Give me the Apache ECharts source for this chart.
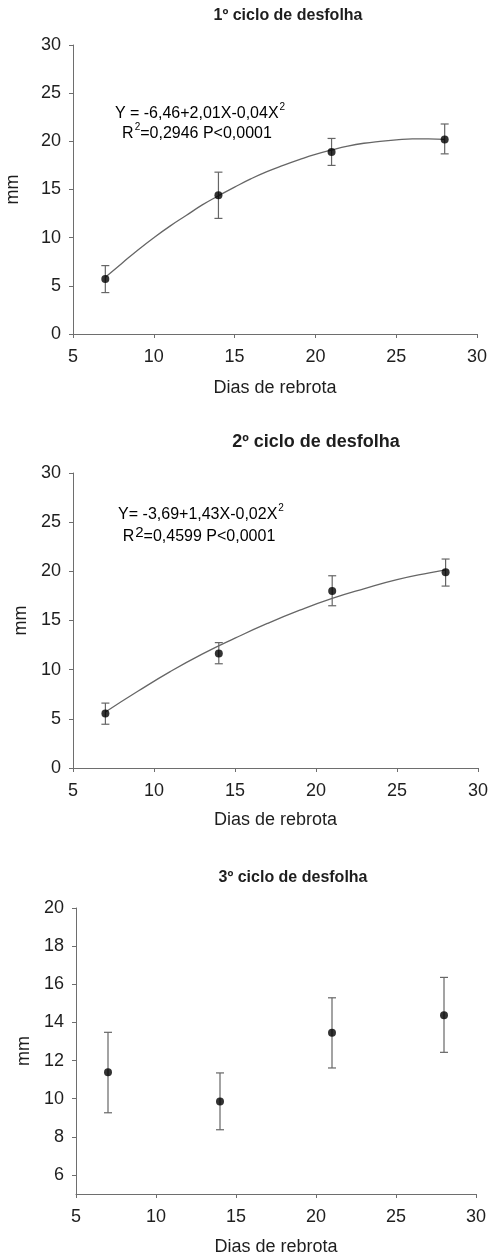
<!DOCTYPE html>
<html>
<head>
<meta charset="utf-8">
<script src="https://cdn.jsdelivr.net/npm/echarts@6/dist/echarts.min.js"></script>
<style>
html,body{margin:0;padding:0;background:#fff;}
#main{width:490px;height:1254px;}
</style>
</head>
<body>
<div id="main"></div>
<script>
// ---- data ----
const titles = ['1º ciclo de desfolha', '2º ciclo de desfolha', '3º ciclo de desfolha'];
const xName = 'Dias de rebrota';
const yName = 'mm';
const days = [7, 14, 21, 28];
const xTicks = [5, 10, 15, 20, 25, 30];

// cycle 1
const mean1 = [5.7, 14.4, 18.9, 20.2];
const low1 = [4.3, 12.0, 17.5, 18.7];
const high1 = [7.1, 16.8, 20.3, 21.8];
const curve1 = [[7, 5.9], [8, 7.3], [9, 8.7], [10, 10.0], [11, 11.2], [12, 12.3], [13, 13.4], [14, 14.35], [15, 15.25], [16, 16.1], [17, 16.85], [18, 17.5], [19, 18.1], [20, 18.65], [21, 19.1], [22, 19.5], [23, 19.8], [24, 20.0], [25, 20.15], [26, 20.25], [27, 20.25], [28, 20.2]];
const eq1 = ['Y = -6,46+2,01X-0,04X', 'R', '=0,2946 P<0,0001'];
const yTicks1 = [0, 5, 10, 15, 20, 25, 30];

// cycle 2
const mean2 = [5.55, 11.65, 18.0, 19.9];
const low2 = [4.45, 10.6, 16.5, 18.5];
const high2 = [6.6, 12.75, 19.55, 21.25];
const curve2 = [[7, 5.7], [9, 7.8], [11, 9.8], [13, 11.6], [15, 13.2], [17, 14.7], [19, 16.05], [21, 17.25], [23, 18.25], [25, 19.15], [27, 19.85], [28, 20.15]];
const eq2 = ['Y= -3,69+1,43X-0,02X', 'R', '=0,4599 P<0,0001'];
const yTicks2 = [0, 5, 10, 15, 20, 25, 30];

// cycle 3
const mean3 = [11.38, 9.85, 13.46, 14.37];
const low3 = [9.26, 8.37, 11.61, 12.43];
const high3 = [13.48, 11.35, 15.29, 16.36];
const yTicks3 = [6, 8, 10, 12, 14, 16, 18, 20];

// ---- chart ----
const FONT = '"Liberation Sans", Arial, sans-serif';
const AXIS_COLOR = '#6e6e6e';
const TEXT = '#1e1e1e';
const chart = echarts.init(document.getElementById('main'), null, {renderer: 'canvas'});

const grids = [
  {left: 73, right: 13, top: 45, height: 289, containLabel: false, outerBoundsMode: 'none'},
  {left: 73, right: 12, top: 473, height: 295, containLabel: false, outerBoundsMode: 'none'},
  {left: 76, right: 14, top: 908, height: 286, containLabel: false, outerBoundsMode: 'none'}
];

function xAxisFor(i, gap) {
  return {
    type: 'value', gridIndex: i, min: 5, max: 30, interval: 5,
    name: xName, nameLocation: 'middle', nameGap: gap,
    nameTextStyle: {fontFamily: FONT, fontSize: 18, color: TEXT},
    axisLine: {show: true, lineStyle: {color: AXIS_COLOR, width: 1}},
    axisTick: {show: true, length: 4, lineStyle: {color: AXIS_COLOR}},
    axisLabel: {fontFamily: FONT, fontSize: 18, color: TEXT, margin: 14,
      customValues: xTicks},
    splitLine: {show: false}
  };
}
function yAxisFor(i, min, max, interval, ticks, gap) {
  const ax = {
    type: 'value', gridIndex: i, min: min, max: max,
    name: yName, nameLocation: 'middle', nameGap: gap, nameRotate: 90,
    nameTextStyle: {fontFamily: FONT, fontSize: 18, color: TEXT},
    axisLine: {show: true, lineStyle: {color: AXIS_COLOR, width: 1}},
    axisTick: {show: true, length: 4, lineStyle: {color: AXIS_COLOR}, customValues: ticks},
    axisLabel: {fontFamily: FONT, fontSize: 18, color: TEXT, margin: 12, customValues: ticks},
    splitLine: {show: false}
  };
  if (interval) ax.interval = interval;
  return ax;
}

function errorSeries(i, low, high) {
  return {
    type: 'custom', xAxisIndex: i, yAxisIndex: i, silent: true, z: 2,
    data: days.map((d, k) => [d, low[k], high[k]]),
    renderItem: function (params, api) {
      const x = api.value(0);
      const lo = api.coord([x, api.value(1)]);
      const hi = api.coord([x, api.value(2)]);
      const w = 4;
      const st = {stroke: '#666', lineWidth: 1.2, fill: null};
      return {
        type: 'group',
        children: [
          {type: 'line', shape: {x1: lo[0], y1: lo[1], x2: hi[0], y2: hi[1]}, style: st},
          {type: 'line', shape: {x1: lo[0] - w, y1: lo[1], x2: lo[0] + w, y2: lo[1]}, style: st},
          {type: 'line', shape: {x1: hi[0] - w, y1: hi[1], x2: hi[0] + w, y2: hi[1]}, style: st}
        ]
      };
    }
  };
}
function pointSeries(i, mean) {
  return {
    type: 'scatter', xAxisIndex: i, yAxisIndex: i, z: 4, silent: true,
    symbolSize: 8, itemStyle: {color: '#000'},
    data: days.map((d, k) => [d, mean[k]])
  };
}
function curveSeries(i, pts) {
  return {
    type: 'line', xAxisIndex: i, yAxisIndex: i, z: 3, silent: true,
    smooth: true, showSymbol: false, symbol: 'none',
    lineStyle: {color: '#666', width: 1.3},
    data: pts
  };
}

function titleAt(text, cx, cy, size) {
  return {
    text: text, left: cx, top: cy - size / 2 - 1, textAlign: 'center', padding: 0,
    textStyle: {fontFamily: FONT, fontSize: size, fontWeight: 'bold', color: TEXT}
  };
}
function richText(str, cx, cy, supSize) {
  return {
    type: 'text',
    style: {
      text: str, x: cx, y: cy, align: 'center', verticalAlign: 'middle',
      rich: {
        n: {fontFamily: FONT, fontSize: 16, color: TEXT, lineHeight: 20, verticalAlign: 'bottom'},
        s: {fontFamily: FONT, fontSize: supSize, color: TEXT, lineHeight: 20, verticalAlign: 'top', padding: [0, 0, 0, 1]}
      }
    }
  };
}

const option = {
  backgroundColor: '#fff',
  animation: false,
  title: [
    titleAt(titles[0], 288, 17, 16),
    titleAt(titles[1], 316, 443, 18),
    titleAt(titles[2], 293, 879, 16)
  ],
  grid: grids,
  xAxis: [xAxisFor(0, 45), xAxisFor(1, 43), xAxisFor(2, 44)],
  yAxis: [
    yAxisFor(0, 0, 30, 5, yTicks1, 51),
    yAxisFor(1, 0, 30, 5, yTicks2, 38),
    yAxisFor(2, 5, 20, null, yTicks3, 39)
  ],
  graphic: [
    richText('{n|' + eq1[0] + '}{s|2}', 200, 112, 10),
    richText('{n|' + eq1[1] + '}{s|2}{n|' + eq1[2] + '}', 197, 132, 10),
    richText('{n|' + eq2[0] + '}{s|2}', 201, 513, 10),
    richText('{n|' + eq2[1] + '}{s|2}{n|' + eq2[2] + '}', 199, 535, 15)
  ],
  series: [
    curveSeries(0, curve1), errorSeries(0, low1, high1), pointSeries(0, mean1),
    curveSeries(1, curve2), errorSeries(1, low2, high2), pointSeries(1, mean2),
    errorSeries(2, low3, high3), pointSeries(2, mean3)
  ]
};
chart.setOption(option);
</script>
</body>
</html>
